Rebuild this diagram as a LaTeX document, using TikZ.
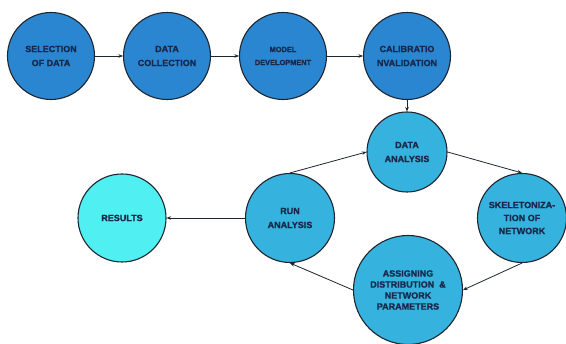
\documentclass[tikz,border=0pt]{standalone}
\usepackage{fontspec}
\setmainfont{Liberation Sans}[BoldFont={Liberation Sans Bold},BoldFeatures={FakeBold=1.2}]
\usetikzlibrary{arrows.meta}
\definecolor{topblue}{HTML}{2B86D1}
\definecolor{cycblue}{HTML}{35B2DD}
\definecolor{rescyan}{HTML}{50EFF2}
\definecolor{txt}{HTML}{17294A}
\definecolor{edge}{HTML}{1E2630}
\tikzset{
  stage/.style={circle, draw=edge, line width=1.1pt, inner sep=0pt, align=center,
    text=txt, font=\fontsize{9}{14}\selectfont\bfseries},
  topst/.style={stage, fill=topblue, minimum size=87pt},
  cycst/.style={stage, fill=cycblue},
  resst/.style={stage, fill=rescyan, minimum size=88pt},
  flow/.style={draw=edge, line width=0.8pt, -{Stealth[length=4.5pt,width=3.5pt]}}
}
\begin{document}
\begin{tikzpicture}[x=1pt,y=1pt]
\useasboundingbox[fill=white] (0,0) rectangle (566,-344);
\node[topst] (sel) at (51,-56) {SELECTION\\OF DATA};
\node[topst] (col) at (167,-56) {DATA\\COLLECTION};
\node[topst, font=\fontsize{7.4}{13}\selectfont\bfseries] (mod) at (283,-56) {MODEL\\DEVELOPMENT};
\node[topst] (cal) at (407,-56) {CALIBRATIO\\NVALIDATION};
\node[cycst, minimum size=80pt] (da) at (407,-152) {DATA\\ANALYSIS};
\node[cycst, minimum size=89pt, font=\fontsize{9}{13}\selectfont\bfseries] (skel) at (522,-218) {SKELETONIZA-\\TION OF\\NETWORK};
\node[cycst, minimum size=109pt, font=\fontsize{9}{11}\selectfont\bfseries] (asg) at (408,-290) {ASSIGNING\\DISTRIBUTION \ \&\\NETWORK\\PARAMETERS};
\node[cycst, minimum size=89pt] (run) at (290,-218) {RUN\\ANALYSIS};
\node[resst] (res) at (122,-218) {RESULTS};
\draw[flow] (sel) -- (col);
\draw[flow] (col) -- (mod);
\draw[flow] (mod) -- (cal);
\draw[flow] (cal) -- (da);
\draw[flow] (run.north) -- (da.west);
\draw[flow] (da.east) -- (skel.north);
\draw[flow] (skel.south) -- (asg.east);
\draw[flow] (asg.west) -- (run.south);
\draw[flow] (run.west) -- (res.east);
\end{tikzpicture}
\end{document}
